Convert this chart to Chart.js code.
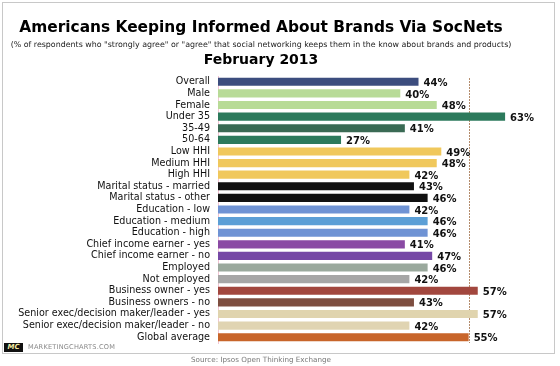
<!DOCTYPE html>
<html>
<head>
<meta charset="utf-8">
<script src="https://cdn.jsdelivr.net/npm/chart.js@4/dist/chart.umd.min.js"></script>
<style>
  html, body { margin: 0; padding: 0; background: #fff; }
  #wrap { position: relative; width: 560px; height: 366px; overflow: hidden; font-family: "DejaVu Sans", Verdana, sans-serif; }
  #frame { position: absolute; left: 2px; top: 2px; width: 551px; height: 350px; border: 1px solid #c8c8c8; box-sizing: content-box; }
  #c { position: absolute; left: 0; top: 0; }
  .t { position: absolute; left: 0; width: 522px; text-align: center; white-space: nowrap; color: #000; }
  #title { top: 18px; font-size: 15.4px; font-weight: bold; }
  #sub { top: 40px; font-size: 7.9px; color: #222; }
  #feb { top: 51px; font-size: 14px; font-weight: bold; }
  #mc { position: absolute; left: 4px; top: 343px; width: 19px; height: 9px; background: #111; color: #f3e9a0; font-size: 7px; font-weight: bold; line-height: 9px; text-align: center; font-style: italic; }
  #mcs { position: absolute; left: 28px; top: 343px; font-size: 6.6px; color: #888; letter-spacing: 0.2px; line-height: 9px; }
  #src { position: absolute; left: 0; width: 522px; top: 355px; text-align: center; font-size: 7.2px; color: #777; }
</style>
</head>
<body>
<div id="wrap">
  <div id="frame"></div>
  <canvas id="c" width="560" height="366"></canvas>
  <div class="t" id="title">Americans Keeping Informed About Brands Via SocNets</div>
  <div class="t" id="sub">(% of respondents who "strongly agree" or "agree" that social networking keeps them in the know about brands and products)</div>
  <div class="t" id="feb">February 2013</div>
  <div id="mc">MC</div>
  <div id="mcs">MARKETINGCHARTS.COM</div>
  <div id="src">Source: Ipsos Open Thinking Exchange</div>
</div>
<script>
const categories = [
  "Overall", "Male", "Female", "Under 35", "35-49", "50-64",
  "Low HHI", "Medium HHI", "High HHI",
  "Marital status - married", "Marital status - other",
  "Education - low", "Education - medium", "Education - high",
  "Chief income earner - yes", "Chief income earner - no",
  "Employed", "Not employed",
  "Business owner - yes", "Business owners - no",
  "Senior exec/decision maker/leader - yes", "Senior exec/decision maker/leader - no",
  "Global average"
];
const values = [44, 40, 48, 63, 41, 27, 49, 48, 42, 43, 46, 42, 46, 46, 41, 47, 46, 42, 57, 43, 57, 42, 55];
const barColors = [
  "#3c4d7e", "#b8db97", "#b8db97", "#2c7a5c", "#3a6a54", "#2c7a5c",
  "#f0c85c", "#f0c85c", "#f0c85c",
  "#111111", "#111111",
  "#6f93d4", "#5c9fd6", "#6f93d4",
  "#8a4aa4", "#7648a6",
  "#9aa99d", "#a6a6a6",
  "#a2473e", "#7e4e40",
  "#e0d4ae", "#e0d4b2",
  "#c8652a"
];
const referenceValue = 55;

const refLine = {
  id: 'refLine',
  beforeDatasetsDraw(chart) {
    const { ctx, chartArea, scales } = chart;
    const x = Math.round(scales.x.getPixelForValue(referenceValue)) + 0.5;
    ctx.save();
    ctx.strokeStyle = '#b48c6c';
    ctx.lineWidth = 1;
    ctx.setLineDash([2, 1]);
    ctx.beginPath();
    ctx.moveTo(x, chartArea.top + 2);
    ctx.lineTo(x, chartArea.bottom);
    ctx.stroke();
    ctx.restore();
  }
};

const valueLabels = {
  id: 'valueLabels',
  afterDatasetsDraw(chart) {
    const { ctx } = chart;
    const meta = chart.getDatasetMeta(0);
    ctx.save();
    ctx.font = 'bold 10px "DejaVu Sans", Verdana, sans-serif';
    ctx.fillStyle = '#111';
    ctx.textAlign = 'left';
    ctx.textBaseline = 'middle';
    meta.data.forEach((bar, i) => {
      ctx.fillText(values[i] + '%', bar.x + 5, bar.y + 1.5);
    });
    ctx.restore();
  }
};

new Chart(document.getElementById('c'), {
  type: 'bar',
  data: {
    labels: categories,
    datasets: [{
      data: values,
      backgroundColor: barColors,
      borderWidth: 0,
      barPercentage: 0.7,
      categoryPercentage: 1.0
    }]
  },
  options: {
    indexAxis: 'y',
    responsive: false,
    animation: false,
    layout: { padding: { left: 0, right: 23, top: 76, bottom: 23 } },
    plugins: { legend: { display: false }, tooltip: { enabled: false } },
    scales: {
      x: {
        min: 0, max: 70,
        display: false,
        grid: { display: false }
      },
      y: {
        afterFit(scale) { scale.width = 218; },
        grid: { display: false, drawTicks: false },
        border: { display: true, color: '#f2c4d4', width: 1 },
        ticks: {
          padding: 8,
          color: '#111',
          font: { family: '"DejaVu Sans", Verdana, sans-serif', size: 9.6 },
          autoSkip: false
        }
      }
    }
  },
  plugins: [refLine, valueLabels]
});
</script>
</body>
</html>
